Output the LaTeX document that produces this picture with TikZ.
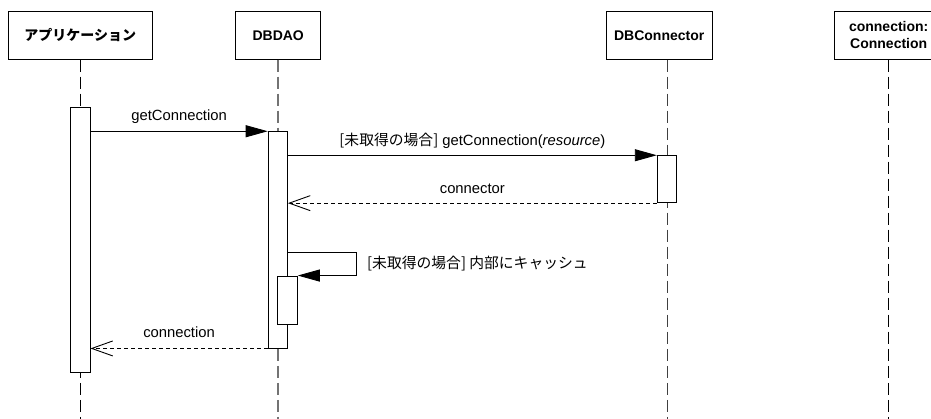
\documentclass[tikz,border=0pt]{standalone}
\usepackage{fontspec}
\setmainfont{Liberation Sans}
\newfontfamily\jp{Noto Sans CJK JP}
\usetikzlibrary{arrows.meta}
\begin{document}
\begin{tikzpicture}[x=1pt,y=-1pt,
  head/.style={draw, line width=0.9pt, fill=white, inner sep=0pt, minimum height=47.6pt,
    font=\fontsize{14}{17}\selectfont\bfseries, align=center},
  bar/.style={draw, line width=0.9pt, fill=white, inner sep=0pt, minimum width=19.3pt},
  life/.style={line width=0.9pt, dash pattern=on 12pt off 5pt},
  lifegrey/.style={life, draw=black!55, line width=1.6pt},
  call/.style={line width=0.9pt, -{Triangle[length=22pt,width=12pt]}},
  reply/.style={line width=0.9pt, dash pattern=on 4pt off 3pt,
    -{Straight Barb[length=21pt,width=15pt,line width=0.9pt]}},
  lbl/.style={font=\fontsize{14.8}{17}\selectfont, anchor=base, inner sep=0pt},
]
\useasboundingbox (0,0) rectangle (931,419);
\clip (0,0) rectangle (931,419);

% heads
\node[head, minimum width=144pt] (app) at (80.3,35.5) {\jp アプリケーション};
\node[head, minimum width=85pt] (dao) at (278.2,35.5) {DBDAO};
\node[head, minimum width=106.3pt] (dbc) at (659.2,35.5) {DBConnector};
\node[head, minimum width=109pt] (cx) at (888.7,35.5) {connection:\\Connection};

% lifelines
\draw[life] (app.south) -- (app.south |- 0,419);
\draw[lifegrey] (277.8,0 |- dao.south) -- (277.8,419);
\draw[life, draw=black!75] (667,0 |- dbc.south) -- (667,419);
\draw[life] (cx.south) -- (cx.south |- 0,419);

% activation bars
\node[bar, minimum height=264.3pt] (appbar) at (80.35,239.85) {};
\node[bar, minimum height=216.3pt] (daobar) at (277.8,239.85) {};
\node[bar, minimum height=47pt] (dbcbar) at (666.9,179.2) {};
\node[bar, minimum width=20pt, minimum height=48pt] (selfbar) at (287.3,300) {};

% messages
\draw[call] (appbar.east |- daobar.north) -- node[lbl, yshift=11pt] {getConnection} (daobar.north west);
\draw[call] (daobar.east |- dbcbar.north) -- node[lbl, yshift=9.5pt] {{\jp [未取得の場合]} getConnection(\textit{resource})} (dbcbar.north west);
\draw[reply] (dbcbar.south west) -- node[lbl, yshift=10pt] {connector} (daobar.east |- dbcbar.south);
\coordinate (loop) at (356,252.3);
\draw[call] (daobar.east |- loop) -- (loop) |- (selfbar.north east);
\node[lbl, anchor=base west] (selflbl) at (367,268.3) {\jp [未取得の場合] 内部にキャッシュ};
\draw[reply] (daobar.south west) -- node[lbl, yshift=11pt] {connection} (appbar.east |- daobar.south);
\end{tikzpicture}
\end{document}
